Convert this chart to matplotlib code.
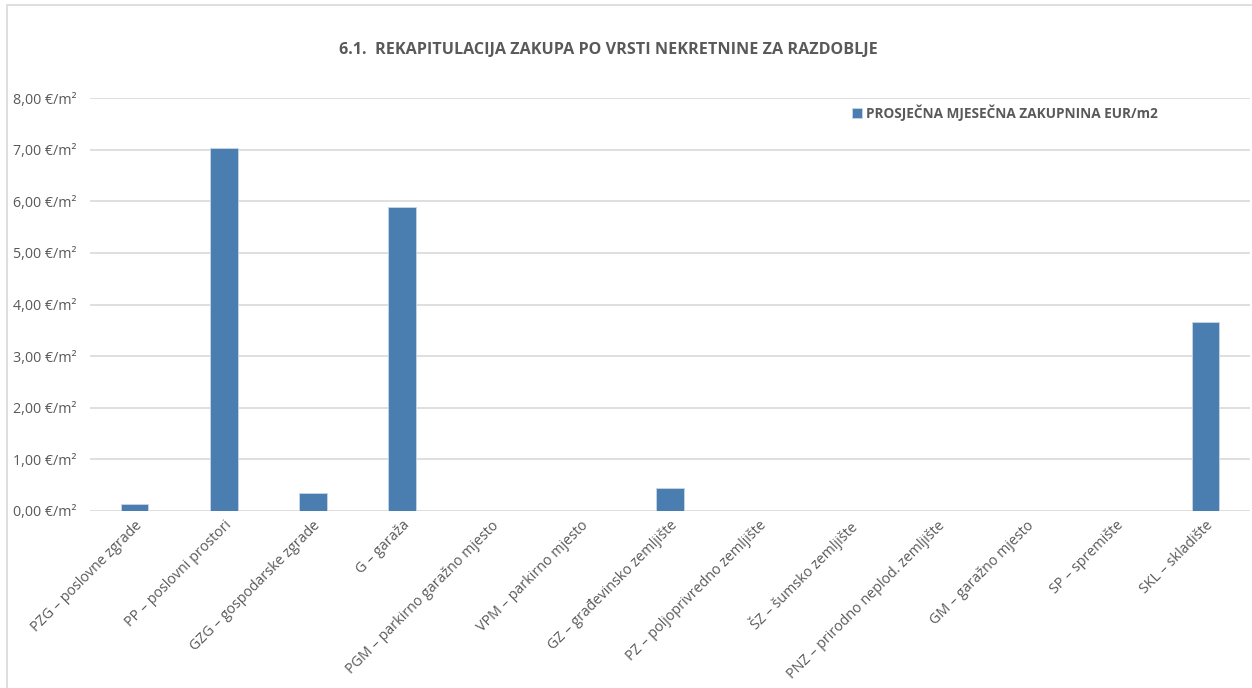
import matplotlib.pyplot as plt
from matplotlib.patches import Rectangle

# data
categories = [
    'PZG – poslovne zgrade', 'PP – poslovni prostori', 'GZG – gospodarske zgrade',
    'G – garaža', 'PGM – parkirno garažno mjesto', 'VPM – parkirno mjesto',
    'GZ – građevinsko zemljište', 'PZ – poljoprivredno zemljište', 'ŠZ – šumsko zemljište',
    'PNZ – prirodno neplod. zemljište', 'GM – garažno mjesto', 'SP – spremište',
    'SKL – skladište',
]
values = [0.14, 7.03, 0.35, 5.89, 0.0, 0.0, 0.44, 0.0, 0.0, 0.0, 0.0, 0.0, 3.66]
yticks = [0, 1, 2, 3, 4, 5, 6, 7, 8]
series_name = 'PROSJEČNA MJESEČNA ZAKUPNINA EUR/m2'
title = '6.1.  REKAPITULACIJA ZAKUPA PO VRSTI NEKRETNINE ZA RAZDOBLJE'

plt.rcParams['font.family'] = ['Open Sans', 'DejaVu Sans']
text_col = '#595959'
bar_col = '#4A7EB0'

fig = plt.figure(figsize=(12.52, 6.88), dpi=100)
ax = fig.add_axes([90 / 1252, 177 / 688, 1160 / 1252, 413 / 688])

x = range(len(categories))
ax.bar(x, values, width=0.31, color=bar_col, edgecolor='#c9d6e6', linewidth=0.6,
       label=series_name, zorder=3)

ax.set_xlim(-0.5, len(categories) - 0.5)
ax.set_ylim(0, 8)
ax.set_yticks(yticks)
ax.set_yticklabels([f'{v:.2f}'.replace('.', ',') + ' €/m²' for v in yticks],
                   fontsize=10.3, color=text_col)
ax.set_xticks(list(x))
ax.set_xticklabels(categories, rotation=45, ha='right', rotation_mode='anchor',
                   fontsize=10.3, color=text_col)
ax.tick_params(length=0, pad=5)
ax.tick_params(axis='y', pad=10)
ax.grid(axis='y', color='#d9d9d9', linewidth=1.2, zorder=0)
for s in ax.spines.values():
    s.set_visible(False)

fig.text(608 / 1252, 1 - 50 / 688, title, ha='center', va='center',
         fontsize=11.6, fontweight='bold', color=text_col)

leg = ax.legend(loc='upper left', bbox_to_anchor=(840 / 1252, 1 - 92 / 688),
                bbox_transform=fig.transFigure, frameon=False, handlelength=0.7,
                handleheight=0.7, handletextpad=0.3,
                prop={'size': 9.8, 'weight': 'bold'})
for t in leg.get_texts():
    t.set_color(text_col)

# outer chart border
fig.patches.append(Rectangle((7 / 1252, -0.01), 1.1, 1 - 5 / 688 + 0.01,
                             transform=fig.transFigure, fill=False,
                             edgecolor='#d9d9d9', linewidth=1.2))

fig.savefig('out.png', dpi=100)
